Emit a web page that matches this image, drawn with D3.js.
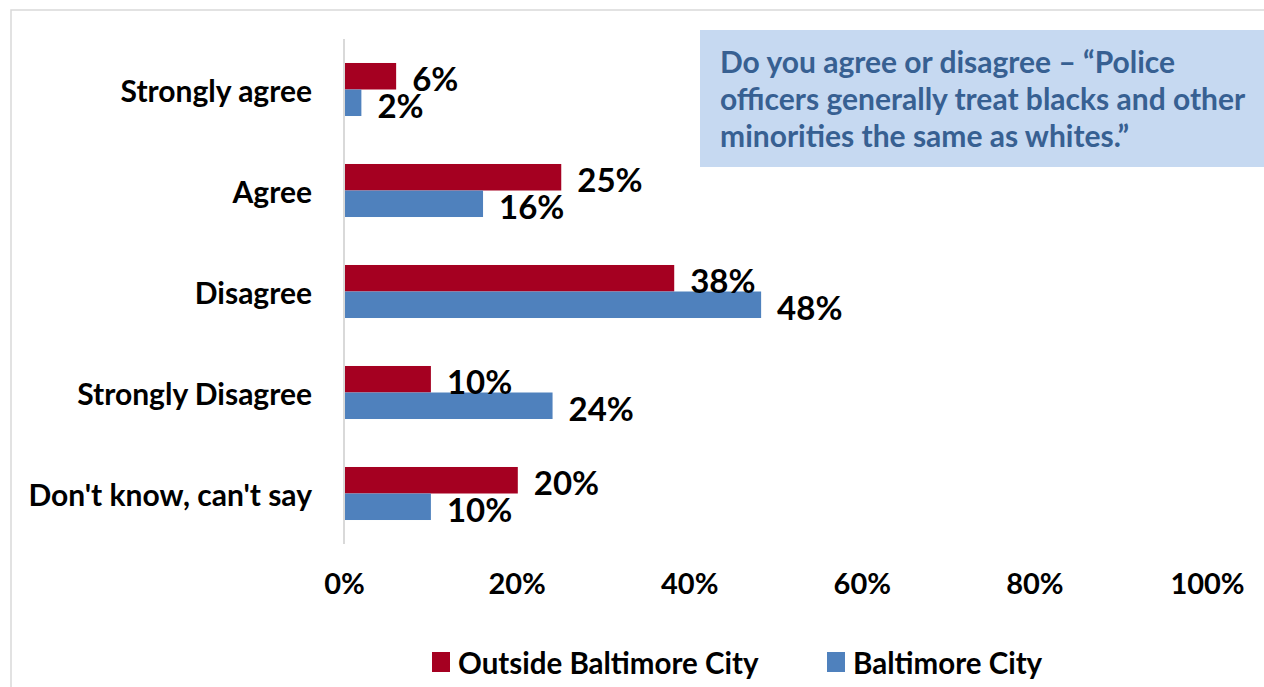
<!DOCTYPE html>
<html>
<head>
<meta charset="utf-8">
<script src="https://cdn.jsdelivr.net/npm/d3@7"></script>
<style>
  html, body { margin: 0; padding: 0; background: #fff; }
  svg { display: block; font-family: Lato, "Open Sans", sans-serif; font-weight: bold; }
</style>
</head>
<body>
<svg id="chart" width="1264" height="687"></svg>
<script>
const categories = ["Strongly agree", "Agree", "Disagree", "Strongly Disagree", "Don't know, can't say"];
const seriesNames = ["Outside Baltimore City", "Baltimore City"];
const outsideValues = [6, 25, 38, 10, 20];
const cityValues = [2, 16, 48, 24, 10];
const tickValues = [0, 20, 40, 60, 80, 100];
const colors = ["#A50021", "#4F81BD"];
const questionLines = ["Do you agree or disagree \u2013 \u201cPolice", "officers generally treat blacks and other", "minorities the same as whites.\u201d"];

const svg = d3.select("#chart");

// outer frame
svg.append("rect").attr("x", 11).attr("y", 10).attr("width", 1400).attr("height", 800)
  .attr("fill", "none").attr("stroke", "#d9d9d9").attr("stroke-width", 1.5);

const x = d3.scaleLinear().domain([0, 100]).range([344, 1213]);
const y = d3.scaleBand().domain(categories).range([39, 544]).paddingInner(0.475).paddingOuter(0.2375);
const sub = d3.scaleBand().domain(seriesNames).range([0, y.bandwidth()]);

// axis line (vertical category axis)
svg.append("line").attr("x1", x(0)).attr("x2", x(0)).attr("y1", 39).attr("y2", 544)
  .attr("stroke", "#d9d9d9").attr("stroke-width", 2);

const data = categories.map((c, i) => ({ cat: c, vals: [outsideValues[i], cityValues[i]] }));

const groups = svg.selectAll("g.cat").data(data).join("g").attr("class", "cat")
  .attr("transform", d => `translate(0,${y(d.cat)})`);

groups.selectAll("rect").data(d => d.vals.map((v, j) => ({ v, s: seriesNames[j], j })))
  .join("rect")
  .attr("x", x(0) + 1)
  .attr("y", d => sub(d.s))
  .attr("width", d => x(d.v) - x(0) - 1)
  .attr("height", sub.bandwidth())
  .attr("fill", d => colors[d.j]);

groups.selectAll("text.val").data(d => d.vals.map((v, j) => ({ v, s: seriesNames[j], j })))
  .join("text").attr("class", "val")
  .attr("x", d => x(d.v) + 16)
  .attr("y", d => sub(d.s) + sub.bandwidth() / 2 + 2)
  .attr("dominant-baseline", "central")
  .attr("font-size", 33)
  .attr("fill", "#000")
  .text(d => d.v + "%");

// category labels
svg.selectAll("text.cat").data(categories).join("text").attr("class", "cat")
  .attr("x", 312)
  .attr("y", d => y(d) + y.bandwidth() / 2)
  .attr("dominant-baseline", "central")
  .attr("text-anchor", "end")
  .attr("font-size", 30)
  .attr("fill", "#000")
  .text(d => d);

// x tick labels
const xAxis = d3.axisBottom(x).tickValues(tickValues).tickFormat(d => d + "%").tickSize(0).tickPadding(0);
const gx = svg.append("g").attr("transform", "translate(0,584)").call(xAxis);
gx.select(".domain").remove();
gx.selectAll("text").attr("font-size", 29).attr("font-family", "Lato, sans-serif").attr("font-weight", "bold")
  .attr("fill", "#000").attr("dy", "0.35em").attr("dx", d => -d * 0.06);

// legend
const legendX = [432, 827];
const lg = svg.selectAll("g.leg").data(seriesNames).join("g").attr("class", "leg")
  .attr("transform", (d, i) => `translate(${legendX[i]},652)`);
lg.append("rect").attr("width", 18).attr("height", 20).attr("fill", (d, i) => colors[i]);
lg.append("text").attr("x", 26).attr("y", 10).attr("dominant-baseline", "central")
  .attr("font-size", 29.5).attr("fill", "#000").text(d => d);

// question box
svg.append("rect").attr("x", 700).attr("y", 30).attr("width", 564).attr("height", 137).attr("fill", "#C6D9F1");
svg.append("g").selectAll("text").data(questionLines).join("text")
  .attr("x", 720).attr("y", (d, i) => 73 + i * 37)
  .attr("font-size", 30).attr("fill", "#376092").text(d => d);
</script>
</body>
</html>
